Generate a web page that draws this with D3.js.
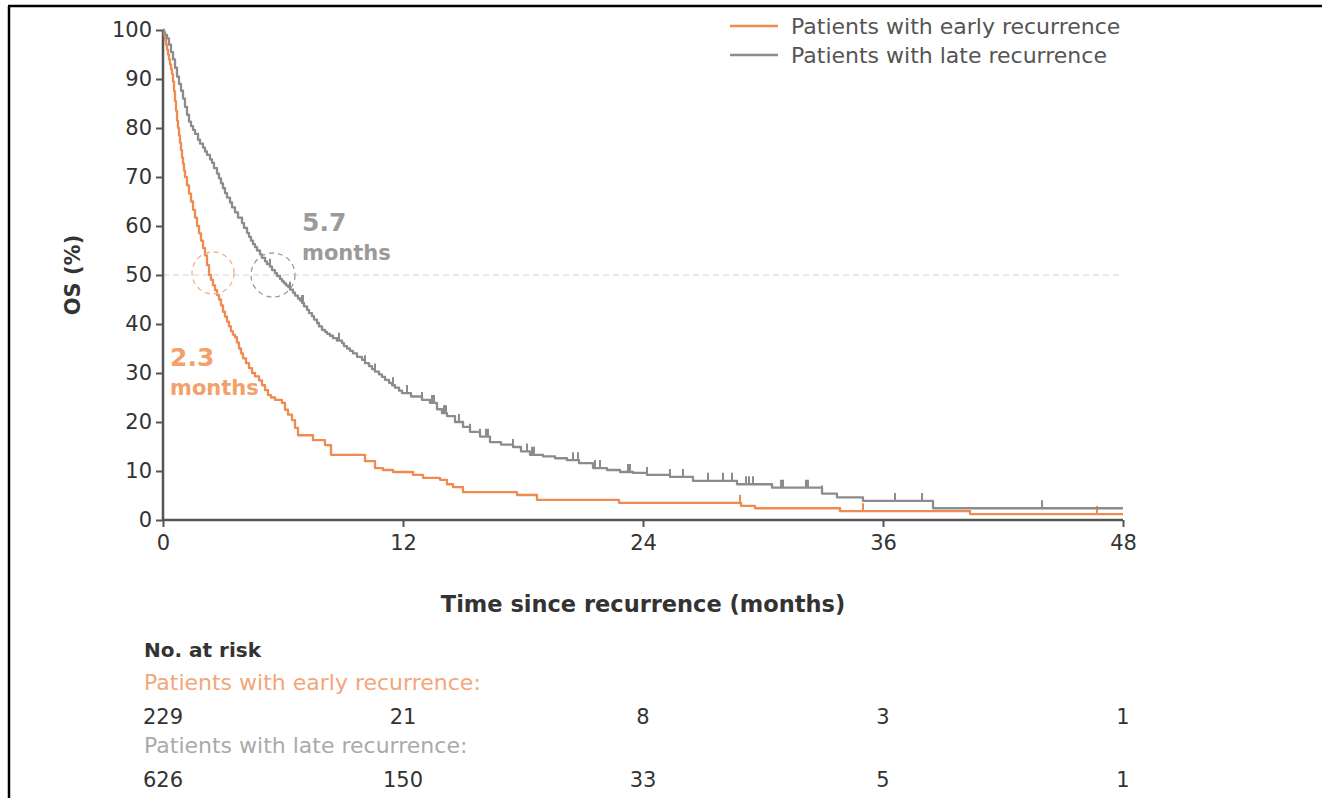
<!DOCTYPE html>
<html>
<head>
<meta charset="utf-8">
<script src="https://cdn.jsdelivr.net/npm/d3@7"></script>
<style>
  html, body { margin: 0; padding: 0; background: #fff; }
  svg { display: block; }
  text { font-family: "DejaVu Sans", sans-serif; }
</style>
</head>
<body>
<svg id="chart" width="1322" height="798"></svg>
<script>
// ---------- data ----------
const seriesNames = ["Patients with early recurrence", "Patients with late recurrence"];
const xTicks = [0, 12, 24, 36, 48];
const yTicks = [0, 10, 20, 30, 40, 50, 60, 70, 80, 90, 100];

// Kaplan–Meier steps: [time (months), OS % after the step]
const earlyCurve = [
  [0, 100], [0.05, 99], [0.1, 98], [0.15, 97], [0.2, 96], [0.25, 95], [0.3, 94], [0.35, 93],
  [0.4, 92], [0.45, 91], [0.5, 89.5], [0.55, 87.5], [0.6, 85.5], [0.65, 83.5], [0.7, 81.5],
  [0.75, 80], [0.8, 78.5], [0.85, 77], [0.9, 75.5], [0.95, 74], [1.0, 72.7], [1.05, 71.3],
  [1.1, 70], [1.2, 68.3], [1.3, 66.6], [1.4, 65], [1.5, 63.3], [1.6, 61.7], [1.7, 60],
  [1.8, 58.5], [1.9, 57], [2.0, 55.5], [2.1, 54], [2.2, 52], [2.3, 50], [2.4, 49], [2.5, 47.9],
  [2.6, 46.9], [2.7, 45.9], [2.8, 45], [2.9, 43.8], [3.0, 42.5], [3.1, 41.5], [3.2, 40.5],
  [3.3, 39.5], [3.4, 38.5], [3.5, 37.8], [3.6, 37.3], [3.7, 36.2], [3.8, 35], [3.9, 34],
  [4.0, 33], [4.15, 32], [4.3, 31], [4.45, 30], [4.6, 29.3], [4.8, 28.5], [4.95, 27.5],
  [5.1, 26.5], [5.25, 25.5], [5.4, 25], [5.6, 24.5], [5.95, 23.9], [6.1, 22.5], [6.25, 21.5],
  [6.45, 20.4], [6.6, 18.8], [6.75, 17.3], [7.5, 16.3], [8.1, 15.3], [8.4, 13.3], [10.1, 12],
  [10.6, 10.6], [11.0, 10.2], [11.5, 9.8], [12.5, 9.2], [13.0, 8.6], [13.85, 8.2], [14.2, 7.3],
  [14.5, 6.7], [15.0, 5.7], [17.7, 5.1], [18.7, 4.1], [22.8, 3.5], [28.9, 2.9], [29.6, 2.4],
  [33.85, 1.8], [40.35, 1.2], [48, 1.2]
];
const lateCurve = [
  [0, 100], [0.05, 99.5], [0.1, 99], [0.2, 98.3], [0.3, 97], [0.4, 95.5], [0.5, 94], [0.6, 92.3],
  [0.7, 90.5], [0.8, 89], [0.9, 87.6], [1.0, 86], [1.1, 84.3], [1.2, 82.7], [1.3, 81.3],
  [1.4, 80.4], [1.5, 79.6], [1.6, 78.8], [1.75, 77.6], [1.85, 76.8], [2.0, 76], [2.1, 75.2],
  [2.2, 74.5], [2.35, 73.6], [2.45, 72.9], [2.55, 71.8], [2.7, 70.7], [2.8, 69.7], [2.9, 68.7],
  [3.0, 67.7], [3.1, 66.7], [3.2, 65.8], [3.35, 64.8], [3.45, 63.8], [3.6, 62.8], [3.75, 61.7],
  [3.95, 60.6], [4.05, 59.6], [4.2, 58.6], [4.3, 57.8], [4.4, 57], [4.5, 56.3], [4.6, 55.7],
  [4.7, 55], [4.85, 54.2], [4.95, 53.5], [5.1, 52.8], [5.2, 52.2], [5.35, 51.7], [5.45, 51],
  [5.6, 50.4], [5.7, 49.8], [5.85, 49.2], [5.95, 48.7], [6.05, 48.3], [6.15, 47.9], [6.25, 47.6],
  [6.35, 47], [6.5, 46.4], [6.6, 45.8], [6.75, 45.2], [6.85, 44.8], [6.95, 44.3], [7.05, 43.6],
  [7.2, 42.9], [7.3, 42.2], [7.45, 41.6], [7.55, 40.9], [7.7, 40.2], [7.8, 39.5], [7.95, 38.8],
  [8.1, 38.4], [8.2, 38.0], [8.35, 37.6], [8.5, 37.1], [8.7, 36.6], [8.95, 36.1], [9.05, 35.5],
  [9.2, 35.0], [9.35, 34.5], [9.5, 34.0], [9.7, 33.3], [9.95, 32.7], [10.1, 32], [10.3, 31.4],
  [10.45, 30.8], [10.6, 30.3], [10.8, 29.7], [10.95, 29.2], [11.1, 28.6], [11.3, 28.0],
  [11.45, 27.5], [11.6, 27.0], [11.8, 26.4], [11.95, 25.9], [12.4, 25.2], [12.95, 24.5],
  [13.35, 23.9], [13.7, 22.6], [13.95, 21.8], [14.2, 21.2], [14.6, 20.0], [15.0, 19.0],
  [15.35, 18.0], [15.85, 17.0], [16.35, 15.9], [16.9, 15.4], [17.5, 14.9], [17.9, 14.0],
  [18.35, 13.3], [19.0, 13.0], [19.6, 12.6], [20.2, 12.2], [20.8, 11.6], [21.5, 10.6],
  [22.2, 10.2], [22.85, 9.8], [23.5, 9.6], [24.2, 9.2], [25.35, 8.8], [26.5, 8.0], [28.7, 7.3],
  [30.45, 6.6], [32.95, 5.4], [33.7, 4.6], [35.0, 3.9], [38.5, 2.4], [48, 2.4]
];
// censoring marks (months)
const earlyCensored = [28.85, 35.0, 46.7];
const lateCensored = [5.35, 6.35, 6.95, 7.0, 8.8, 10.1, 10.6, 11.5, 12.2, 12.95, 13.45, 13.5, 13.55,
  14.05, 14.1, 14.15, 14.8, 15.35, 15.85, 16.15, 16.25, 17.5, 18.2, 18.45, 18.55, 20.5, 20.75,
  21.6, 21.85, 23.25, 23.35, 24.2, 25.35, 26.0, 27.25, 28.0, 28.45, 29.15, 29.3, 29.5, 30.9, 31.0,
  32.15, 32.25, 32.95, 36.6, 37.95, 43.95];
const medians = [2.3, 5.7];
const medianLabels = ["2.3", "5.7"];
const riskTimes = [0, 12, 24, 36, 48];
const earlyAtRisk = [229, 21, 8, 3, 1];
const lateAtRisk = [626, 150, 33, 5, 1];

// ---------- styles ----------
const ORANGE = "#EF8A50";
const GREY = "#8C8C8C";
const AXIS = "#555";

const svg = d3.select("#chart");
const x = d3.scaleLinear().domain([0, 48]).range([163, 1123]);
const y = d3.scaleLinear().domain([0, 100]).range([520, 30]);

// frame
svg.append("line").attr("x1", 8).attr("x2", 1322).attr("y1", 6).attr("y2", 6)
  .attr("stroke", "#000").attr("stroke-width", 2.5);
svg.append("line").attr("x1", 9).attr("x2", 9).attr("y1", 6).attr("y2", 798)
  .attr("stroke", "#000").attr("stroke-width", 2.5);

// median reference line
svg.append("line").attr("x1", x(0)).attr("x2", x(48)).attr("y1", y(50)).attr("y2", y(50))
  .attr("stroke", "#cfd3d6").attr("stroke-width", 1.2).attr("stroke-dasharray", "6,4");

// axes
const yAxis = d3.axisLeft(y).tickValues(yTicks).tickSize(7).tickPadding(4);
const gy = svg.append("g").attr("transform", `translate(${x(0)},0)`).call(yAxis);
const xAxis = d3.axisBottom(x).tickValues(xTicks).tickSize(7).tickPadding(8);
const gx = svg.append("g").attr("transform", `translate(0,${y(0)})`).call(xAxis);
[gy, gx].forEach(g => {
  g.select(".domain").attr("stroke", AXIS).attr("stroke-width", 2.5);
  g.selectAll(".tick line").attr("stroke", AXIS).attr("stroke-width", 2);
  g.selectAll(".tick text").attr("fill", "#333").style("font-size", "21px")
    .style("font-family", "DejaVu Sans, sans-serif");
});
gx.select(".domain").attr("d", `M${x(0)},0H${x(48)}`);
gy.select(".domain").attr("d", `M0,${y(0)}V${y(100)}`);

// curves
const line = d3.line().x(d => x(d[0])).y(d => y(d[1])).curve(d3.curveStepAfter);
function survAt(curve, t) {
  let s = 100;
  for (const [tt, v] of curve) { if (tt <= t) s = v; else break; }
  return s;
}
function drawCurve(curve, cens, color) {
  svg.append("path").datum(curve).attr("d", line).attr("fill", "none")
    .attr("stroke", color).attr("stroke-width", 2.3).attr("stroke-linejoin", "round");
  svg.append("g").selectAll("line").data(cens).join("line")
    .attr("x1", d => x(d)).attr("x2", d => x(d))
    .attr("y1", d => y(survAt(curve, d)))
    .attr("y2", d => y(survAt(curve, d)) - 8)
    .attr("stroke", color).attr("stroke-width", 2);
}
drawCurve(earlyCurve, earlyCensored, ORANGE);
drawCurve(lateCurve, lateCensored, GREY);

// median circles
svg.append("circle").attr("cx", x(medians[0]) + 4).attr("cy", y(50) - 2).attr("r", 21)
  .attr("fill", "none").attr("stroke", "#F2B08A").attr("stroke-width", 1.3).attr("stroke-dasharray", "5,4");
svg.append("circle").attr("cx", x(medians[1]) - 4).attr("cy", y(50)).attr("r", 22)
  .attr("fill", "none").attr("stroke", "#9c9c9c").attr("stroke-width", 1.3).attr("stroke-dasharray", "5,4");

// median annotations
svg.append("text").attr("x", 302).attr("y", 231).text(medianLabels[1])
  .attr("fill", "#9a9a9a").style("font-size", "25px").style("font-weight", "bold");
svg.append("text").attr("x", 302).attr("y", 260).text("months")
  .attr("fill", "#9a9a9a").style("font-size", "21px").style("font-weight", "bold");
svg.append("text").attr("x", 170).attr("y", 366).text(medianLabels[0])
  .attr("fill", "#F4A06A").style("font-size", "25px").style("font-weight", "bold");
svg.append("text").attr("x", 170).attr("y", 395).text("months")
  .attr("fill", "#F4A06A").style("font-size", "21px").style("font-weight", "bold");

// axis titles
svg.append("text").attr("x", x(24)).attr("y", 612).attr("text-anchor", "middle")
  .text("Time since recurrence (months)").attr("fill", "#333")
  .style("font-size", "22.5px").style("font-weight", "bold");
svg.append("text").attr("transform", "translate(80,275) rotate(-90)").attr("text-anchor", "middle")
  .text("OS (%)").attr("fill", "#333").style("font-size", "21px").style("font-weight", "bold");

// legend
const legColors = [ORANGE, GREY];
seriesNames.forEach((name, i) => {
  const ly = 26 + i * 29;
  svg.append("line").attr("x1", 730).attr("x2", 778).attr("y1", ly).attr("y2", ly)
    .attr("stroke", legColors[i]).attr("stroke-width", 2.5);
  svg.append("text").attr("x", 791).attr("y", ly + 8).text(name)
    .attr("fill", "#555").style("font-size", "22px");
});

// number at risk
svg.append("text").attr("x", 144).attr("y", 657).text("No. at risk")
  .attr("fill", "#333").style("font-size", "20px").style("font-weight", "bold");
svg.append("text").attr("x", 144).attr("y", 690).text(seriesNames[0] + ":")
  .attr("fill", "#F4A67A").style("font-size", "22px");
svg.append("text").attr("x", 144).attr("y", 753).text(seriesNames[1] + ":")
  .attr("fill", "#aaa").style("font-size", "22px");
function riskRow(vals, yy) {
  svg.append("g").selectAll("text").data(vals).join("text")
    .attr("x", (d, i) => x(riskTimes[i])).attr("y", yy)
    .attr("text-anchor", "middle").text(d => d)
    .attr("fill", "#333").style("font-size", "21px");
}
riskRow(earlyAtRisk, 724);
riskRow(lateAtRisk, 787);
</script>
</body>
</html>
